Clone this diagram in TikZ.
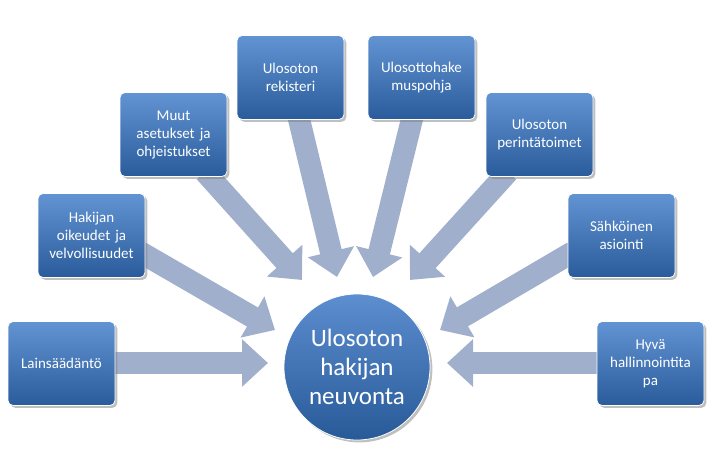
\documentclass[tikz,border=0pt]{standalone}
\usepackage{fontspec}
\setmainfont{Carlito}
\usetikzlibrary{arrows.meta,shadows}
\definecolor{btop}{RGB}{98,148,212}
\definecolor{bbot}{RGB}{42,92,156}
\definecolor{ctop}{RGB}{92,142,208}
\definecolor{cbot}{RGB}{40,90,152}
\definecolor{arr}{RGB}{160,176,204}
\tikzset{
 box/.style={draw=white,line width=0.8pt,rounded corners=5pt,minimum width=107pt,minimum height=84pt,
   top color=btop,bottom color=bbot,
   text=white,font=\fontsize{15}{18}\selectfont,align=center,text width=98pt,drop shadow},
 bigarrow/.style={line width=22pt,draw=arr,-{Triangle[width=46pt,length=26pt,fill=arr]}},
}
\begin{document}
\begin{tikzpicture}[x=1pt,y=-1pt]
\useasboundingbox (0,0) rectangle (713,476);
\coordinate (e1) at (268,363);
\coordinate (e2) at (275,330);
\coordinate (e3) at (302,280);
\coordinate (e4) at (337,277);
\coordinate (e5) at (373,277);
\coordinate (e6) at (410,280);
\coordinate (e7) at (440,330);
\coordinate (e8) at (447,363);
\coordinate (s1) at (112,363);
\coordinate (s2) at (140,252);
\coordinate (s3) at (205,172);
\coordinate (s4) at (298,115);
\coordinate (s5) at (413,115);
\coordinate (s6) at (508,172);
\coordinate (s7) at (573,252);
\coordinate (s8) at (600,363);
\foreach \i in {1,...,8} \draw[bigarrow] (s\i) -- (e\i);
\node[box] (b1) at (61.5,363.5) {Lainsäädäntö};
\node[box] (b2) at (91.5,235.5) {Hakijan\\oikeudet ja\\velvollisuudet};
\node[box] (b3) at (173.5,134.5) {Muut\\asetukset ja\\ohjeistukset};
\node[box] (b4) at (290.5,77.5) {Ulosoton\\rekisteri\\[17pt]};
\node[box] (b5) at (421.5,77.5) {Ulosottohake\\muspohja\\[17pt]};
\node[box] (b6) at (539.5,134.5) {Ulosoton\\perintätoimet\\[17pt]};
\node[box] (b7) at (621.5,235.5) {Sähköinen\\asiointi\\[17pt]};
\node[box] (b8) at (650.5,363.5) {Hyvä\\hallinnointita\\pa};
\node[circle,draw=white,line width=0.8pt,minimum size=146pt,inner sep=0pt,
  top color=ctop,bottom color=cbot,
  text=white,font=\fontsize{25}{29}\selectfont,align=center,drop shadow] (c) at (357,367) {Ulosoton\\hakijan\\neuvonta};
\end{tikzpicture}
\end{document}
